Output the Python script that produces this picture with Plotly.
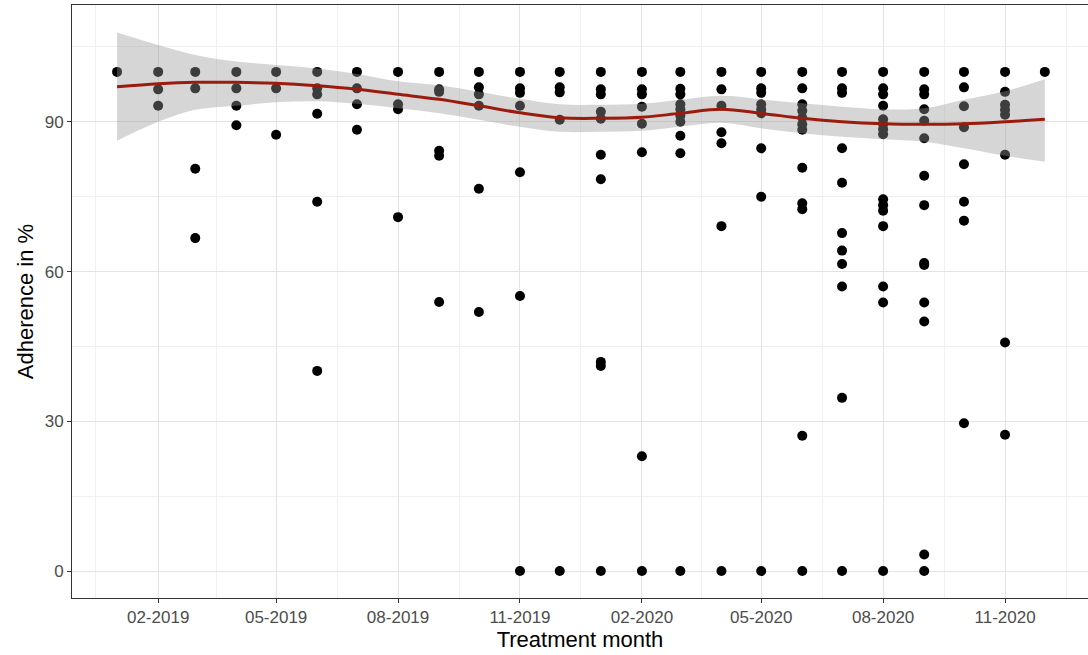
import plotly.graph_objects as go

months = ["2019-01-01", "2019-02-01", "2019-03-01", "2019-04-01", "2019-05-01", "2019-06-01",
          "2019-07-01", "2019-08-01", "2019-09-01", "2019-10-01", "2019-11-01", "2019-12-01",
          "2020-01-01", "2020-02-01", "2020-03-01", "2020-04-01", "2020-05-01", "2020-06-01",
          "2020-07-01", "2020-08-01", "2020-09-01", "2020-10-01", "2020-11-01", "2020-12-01"]

adherence = [
    [100],
    [100, 96.5, 93.2],
    [100, 96.7, 80.6, 66.7],
    [100, 96.7, 93.2, 89.3],
    [100, 96.7, 87.4],
    [100, 96.7, 95.5, 91.6, 74.0, 40.1],
    [100, 96.7, 93.5, 88.4],
    [100, 93.5, 92.5, 70.9],
    [100, 96.5, 96.0, 84.2, 83.2, 53.9],
    [100, 96.9, 95.5, 93.2, 76.6, 51.9],
    [100, 96.7, 95.8, 93.2, 79.9, 55.1, 0],
    [100, 96.9, 95.9, 90.4, 0],
    [100, 96.5, 95.5, 92.0, 90.6, 83.4, 78.5, 41.9, 41.1, 0],
    [100, 96.5, 95.5, 93.0, 89.6, 83.9, 23.0, 0],
    [100, 96.6, 95.5, 93.5, 92.5, 91.2, 90.0, 87.2, 83.7, 0],
    [100, 96.5, 93.2, 87.9, 85.7, 69.1, 0],
    [100, 96.7, 95.8, 93.5, 92.5, 91.7, 84.7, 75.0, 0],
    [100, 96.7, 93.5, 92.2, 90.8, 89.5, 88.4, 80.8, 73.7, 72.5, 27.1, 0],
    [100, 96.7, 95.8, 84.7, 77.8, 67.7, 64.2, 61.5, 57.0, 34.7, 0],
    [100, 96.7, 95.5, 93.2, 90.5, 89.5, 88.5, 87.5, 74.5, 73.3, 72.2, 69.1, 57.0, 53.8, 0],
    [100, 96.5, 95.5, 92.5, 90.2, 86.7, 79.2, 73.3, 61.7, 61.3, 53.8, 50.0, 3.3, 0],
    [100, 96.9, 93.1, 88.9, 81.5, 74.0, 70.2, 29.6],
    [100, 96.0, 93.4, 92.4, 91.4, 83.4, 45.8, 27.3],
    [100],
]

smooth_fit = [97.0, 97.6, 97.9, 97.9, 97.7, 97.2, 96.5, 95.5, 94.5, 93.2, 91.8, 90.8,
              90.7, 90.9, 91.7, 92.5, 91.7, 90.7, 90.0, 89.6, 89.5, 89.6, 90.0, 90.5]
smooth_upper = [107.9, 105.4, 103.4, 102.1, 101.4, 100.7, 99.6, 98.1, 97.3, 96.0, 94.6, 93.5,
                93.4, 93.6, 94.4, 95.2, 94.5, 93.7, 93.0, 92.5, 92.7, 94.4, 96.1, 98.5]
smooth_lower = [86.2, 90.0, 92.4, 93.2, 93.9, 94.1, 93.6, 92.7, 91.7, 90.4, 89.0, 88.0,
                88.0, 88.2, 89.0, 89.8, 88.7, 87.7, 87.0, 86.5, 86.0, 84.7, 83.2, 82.0]

y_ticks = [0, 30, 60, 90]
y_minor = [15, 45, 75, 105]
x_tick_labels_start = "2019-02-01"

px_, py_ = [], []
for m, vals in zip(months, adherence):
    for v in vals:
        px_.append(m)
        py_.append(v)

fig = go.Figure()
fig.add_trace(go.Scatter(x=px_, y=py_, mode="markers",
                         marker=dict(color="black", size=10, line=dict(width=0)),
                         showlegend=False, hoverinfo="skip"))
fig.add_trace(go.Scatter(x=months, y=smooth_upper, mode="lines",
                         line=dict(width=0, shape="spline"), showlegend=False, hoverinfo="skip"))
fig.add_trace(go.Scatter(x=months, y=smooth_lower, mode="lines",
                         line=dict(width=0, shape="spline"), fill="tonexty",
                         fillcolor="rgba(153,153,153,0.4)", showlegend=False, hoverinfo="skip"))
fig.add_trace(go.Scatter(x=months, y=smooth_fit, mode="lines",
                         line=dict(color="#9B1C0C", width=3, shape="spline"),
                         showlegend=False, hoverinfo="skip"))

font_family = "Liberation Sans, Arial, sans-serif"
minor_x = ["2018-12-16", "2019-03-17", "2019-06-16", "2019-09-16", "2019-12-17",
           "2020-03-17", "2020-06-16", "2020-09-16", "2020-12-17"]

fig.update_layout(
    width=1088, height=655,
    margin=dict(l=72, r=0, t=5, b=57),
    paper_bgcolor="white", plot_bgcolor="white",
    font=dict(family=font_family),
    xaxis=dict(
        type="date",
        range=["2018-11-28", "2021-01-02 14:00"],
        tick0=x_tick_labels_start, dtick="M3", tickformat="%m-%Y",
        tickfont=dict(size=17, color="#4D4D4D"),
        ticks="outside", ticklen=4, tickcolor="#333333", tickwidth=1,
        showgrid=True, gridcolor="#E3E3E3", gridwidth=1,
        minor=dict(tickvals=minor_x, showgrid=True, gridcolor="#F0F0F0", gridwidth=1, ticks=""),
        showline=True, linecolor="#333333", linewidth=1, mirror=True,
        zeroline=False, automargin=False,
        title=dict(text="Treatment month", font=dict(size=22, color="black"), standoff=4),
    ),
    yaxis=dict(
        range=[-5.4, 113.4],
        tickvals=y_ticks,
        tickfont=dict(size=17, color="#4D4D4D"),
        ticks="outside", ticklen=4, tickcolor="#333333", tickwidth=1,
        showgrid=True, gridcolor="#E3E3E3", gridwidth=1,
        minor=dict(tickvals=y_minor, showgrid=True, gridcolor="#F0F0F0", gridwidth=1, ticks=""),
        showline=True, linecolor="#333333", linewidth=1, mirror=False,
        zeroline=False, automargin=False,
        title=dict(text="Adherence in %", font=dict(size=22, color="black"), standoff=4),
    ),
)

fig.write_html("out.html")
